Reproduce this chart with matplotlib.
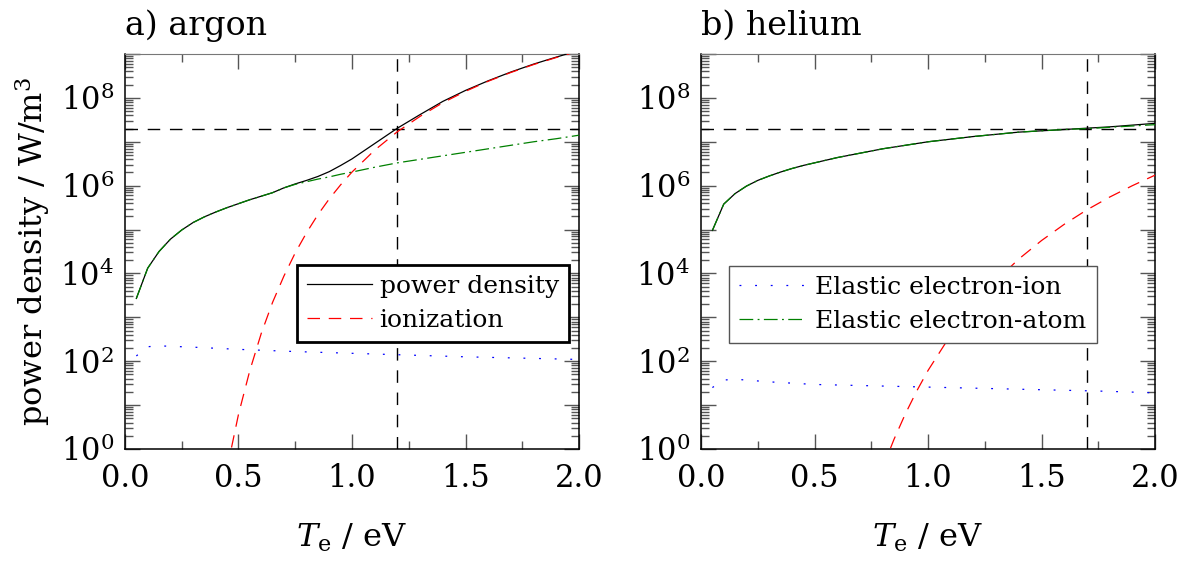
import numpy as np
import matplotlib
matplotlib.use('Agg')
import matplotlib.pyplot as plt
from matplotlib.ticker import LogLocator, FuncFormatter, MultipleLocator, NullFormatter

plt.rcParams['font.family'] = 'serif'
plt.rcParams['font.serif'] = ['DejaVu Serif']
plt.rcParams['mathtext.fontset'] = 'dejavuserif'

# electron temperature grid (eV) for total / electron-atom curves
te = [0.05, 0.10, 0.15, 0.20, 0.25, 0.30, 0.35, 0.40, 0.45, 0.50, 0.55, 0.60,
      0.65, 0.70, 0.75, 0.80, 0.85, 0.90, 0.95, 1.00, 1.10, 1.20, 1.30, 1.40,
      1.50, 1.60, 1.70, 1.80, 1.90, 2.00]
te_ion_ar = [0.45, 0.50, 0.55, 0.60, 0.65, 0.70, 0.75, 0.80, 0.85, 0.90, 0.95,
             1.00, 1.10, 1.20, 1.30, 1.40, 1.50, 1.60, 1.70, 1.80, 1.90, 2.00]
te_ion_he = [0.80, 0.85, 0.90, 0.95, 1.00, 1.10, 1.20, 1.30, 1.40, 1.50, 1.60,
             1.70, 1.80, 1.90, 2.00]
te_ei = [0.05, 0.10, 0.15, 0.20, 0.30, 0.50, 0.75, 1.00, 1.25, 1.50, 1.75, 2.00]

# log10 of power density in W/m^3, argon
ar_total = [3.43, 4.12, 4.50, 4.78, 4.99, 5.16, 5.29, 5.40, 5.50, 5.59, 5.68, 5.76,
            5.84, 5.95, 6.04, 6.12, 6.21, 6.32, 6.46, 6.61, 6.96, 7.31, 7.62, 7.92,
            8.17, 8.39, 8.59, 8.77, 8.93, 9.08]
ar_atom = [3.43, 4.12, 4.50, 4.78, 4.99, 5.16, 5.29, 5.40, 5.50, 5.59, 5.68, 5.76,
           5.84, 5.95, 6.03, 6.09, 6.15, 6.20, 6.26, 6.31, 6.42, 6.52, 6.60, 6.68,
           6.76, 6.84, 6.92, 7.00, 7.07, 7.15]
ar_ion = [-0.44, 0.79, 1.79, 2.63, 3.34, 3.94, 4.47, 4.93, 5.34, 5.70, 6.02,
          6.31, 6.81, 7.23, 7.58, 7.89, 8.15, 8.38, 8.58, 8.76, 8.92, 9.07]
ar_ei = [2.12, 2.33, 2.35, 2.34, 2.32, 2.27, 2.22, 2.18, 2.14, 2.10, 2.07, 2.04]

# helium
he_total = [4.98, 5.58, 5.82, 5.99, 6.12, 6.22, 6.31, 6.39, 6.46, 6.52, 6.58, 6.64,
            6.69, 6.74, 6.79, 6.84, 6.88, 6.92, 6.96, 7.00, 7.06, 7.12, 7.17, 7.22,
            7.25, 7.28, 7.31, 7.34, 7.38, 7.42]
he_atom = [4.98, 5.58, 5.82, 5.99, 6.12, 6.22, 6.31, 6.39, 6.46, 6.52, 6.58, 6.64,
           6.69, 6.74, 6.79, 6.84, 6.88, 6.92, 6.96, 7.00, 7.06, 7.12, 7.17, 7.22,
           7.25, 7.28, 7.30, 7.33, 7.36, 7.39]
he_ion = [-0.43, 0.22, 0.80, 1.32, 1.79, 2.60, 3.27, 3.84, 4.33, 4.75, 5.12,
          5.45, 5.74, 6.00, 6.24]
he_ei = [1.40, 1.57, 1.59, 1.57, 1.53, 1.47, 1.44, 1.41, 1.38, 1.35, 1.32, 1.28]

p_ref = 2e7
te_ref_ar = 1.2
te_ref_he = 1.7

fig = plt.figure(figsize=(11.87, 5.62), dpi=100)
ax1 = fig.add_axes([0.1053, 0.2011, 0.3825, 0.7028])
ax2 = fig.add_axes([0.5906, 0.2011, 0.3825, 0.7028])


def exp_fmt(v, pos):
    k = int(round(np.log10(v)))
    if abs(v - 10.0**k) < 1e-6 * v and k % 2 == 0:
        return r'$10^{%d}$' % k
    return ''


def panel(ax, total, atom, ion, te_ion, ei, te_line, title):
    ax.plot(te, 10**np.array(total), color='black', lw=0.9, label='power density', zorder=3)
    ax.plot(te_ion, 10**np.array(ion), color='#ff0000', lw=0.9, dashes=(10, 7),
            label='ionization', zorder=4)
    ax.plot(te_ei, 10**np.array(ei), color='#0000ff', lw=0.9, dashes=(1.5, 11),
            label='Elastic electron-ion', zorder=4)
    ax.plot(te, 10**np.array(atom), color='#008000', lw=0.9, dashes=(11, 3.5, 1.5, 3.5),
            label='Elastic electron-atom', zorder=5)
    ax.axhline(p_ref, color='black', lw=1.0, dashes=(9, 7), zorder=2)
    ax.axvline(te_line, color='black', lw=1.0, dashes=(9, 7), zorder=2)

    ax.set_yscale('log')
    ax.set_xlim(0, 2)
    ax.set_ylim(1, 1e9)
    ax.xaxis.set_major_locator(MultipleLocator(0.5))
    ax.xaxis.set_minor_locator(MultipleLocator(0.25))
    ax.xaxis.set_major_formatter(FuncFormatter(lambda v, p: '%.1f' % v))
    ax.yaxis.set_major_locator(LogLocator(base=10, numticks=20))
    ax.yaxis.set_minor_locator(LogLocator(base=10, subs=np.arange(2, 10), numticks=20))
    ax.yaxis.set_major_formatter(FuncFormatter(exp_fmt))
    ax.yaxis.set_minor_formatter(NullFormatter())
    ax.tick_params(which='both', direction='in', top=True, right=True,
                   color='#555555', width=1.0, labelsize=22)
    ax.tick_params(which='major', length=10.5)
    ax.tick_params(which='minor', length=5.5)
    ax.tick_params(axis='x', pad=10)
    ax.tick_params(axis='y', pad=8)
    for s in ['left', 'right', 'bottom']:
        ax.spines[s].set_linewidth(1.1)
    ax.spines['top'].set_color('#777777')
    ax.set_xlabel(r'$T_\mathrm{e}$ / eV', fontsize=23, labelpad=20)
    ax.set_title(title, loc='left', fontsize=24, pad=14)


panel(ax1, ar_total, ar_atom, ar_ion, te_ion_ar, ar_ei, te_ref_ar, 'a) argon')
panel(ax2, he_total, he_atom, he_ion, te_ion_he, he_ei, te_ref_he, 'b) helium')

ax1.set_ylabel(r'power density / W/m$^3$', fontsize=23, labelpad=6)

h1, l1 = ax1.get_legend_handles_labels()
leg1 = ax1.legend(h1[:2], l1[:2], loc='lower left', bbox_to_anchor=(0.379, 0.271),
                  borderaxespad=0, fontsize=18, fancybox=False, framealpha=1,
                  edgecolor='black', handlelength=2.6, handletextpad=0.3,
                  borderpad=0.4, labelspacing=0.45)
leg1.get_frame().set_linewidth(2.0)

h2, l2 = ax2.get_legend_handles_labels()
leg2 = ax2.legend(h2[2:], l2[2:], loc='lower left', bbox_to_anchor=(0.062, 0.268),
                  borderaxespad=0, fontsize=18, fancybox=False, framealpha=1,
                  edgecolor='#555555', handlelength=2.6, handletextpad=0.45,
                  borderpad=0.4, labelspacing=0.45)
leg2.get_frame().set_linewidth(1.0)

fig.savefig('out.png', dpi=100)
